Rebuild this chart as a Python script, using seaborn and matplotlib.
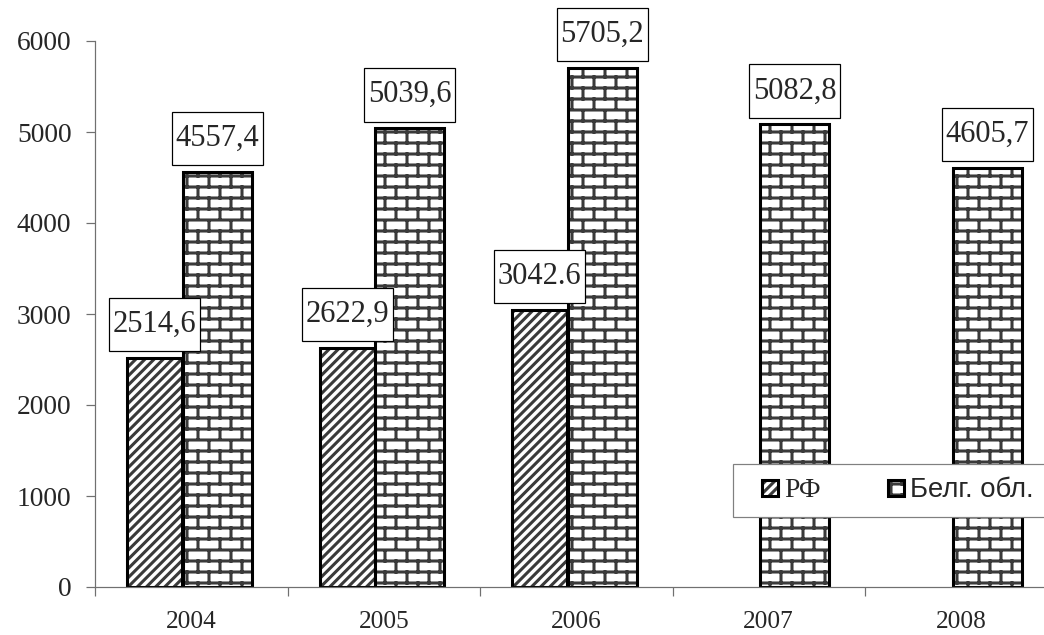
import numpy as np
import pandas as pd
import matplotlib
matplotlib.use("Agg")
import matplotlib.pyplot as plt
import matplotlib.hatch as mhatch
import matplotlib.patches as mpatches
from matplotlib.path import Path
from matplotlib.legend_handler import HandlerPatch
from matplotlib.colors import to_rgba
import seaborn as sns

# ---------------- data ----------------
years = ["2004", "2005", "2006", "2007", "2008"]
rf_values = [2514.6, 2622.9, 3042.6, np.nan, np.nan]
belg_values = [4557.4, 5039.6, 5705.2, 5082.8, 4605.7]
rf_labels = ["2514,6", "2622,9", "3042.6"]
belg_labels = ["4557,4", "5039,6", "5705,2", "5082,8", "4605,7"]
series_names = ["РФ", "Белг. обл."]
y_ticks = [0, 1000, 2000, 3000, 4000, 5000, 6000]


# ---------------- brick hatch ----------------
class BrickHatch(mhatch.HatchPatternBase):
    def __init__(self, hatch, density):
        rows, cols = 10, 5
        segs = []
        if "+" in hatch:
            for k in range(rows + 1):
                segs.append(((0.0, k / rows), (1.0, k / rows)))
            for k in range(rows):
                y0, y1 = k / rows, (k + 1) / rows
                shift = 0.5 * (k % 2)
                for j in range(cols + 1):
                    x = (j + shift) / cols
                    if x <= 1.0:
                        segs.append(((x, y0), (x, y1)))
        self.segs = segs
        self.num_vertices = 2 * len(segs)

    def set_vertices_and_codes(self, vertices, codes):
        vertices[:] = np.array(self.segs, dtype=float).reshape(-1, 2)
        codes[0::2] = Path.MOVETO
        codes[1::2] = Path.LINETO


mhatch._hatch_types = [mhatch.NorthEastHatch, BrickHatch]


def label_box(x0, y0, width, height, mutation_size):
    px = 0.12 * mutation_size
    py = 0.40 * mutation_size
    x0, y0 = x0 - px, y0 - py
    x1, y1 = x0 + width + 2 * px, y0 + height + 2 * py
    return Path([(x0, y0), (x1, y0), (x1, y1), (x0, y1), (x0, y0)], closed=True)


sns.set_style("white")
plt.rcParams["font.family"] = ["Liberation Serif", "DejaVu Serif"]
plt.rcParams["hatch.linewidth"] = 2.0

DPI = 110
fig = plt.figure(figsize=(1044 / DPI, 635 / DPI), dpi=DPI)
ax = fig.add_axes([95 / 1044, 48 / 635, 962.5 / 1044, 546 / 635])

df_rf = pd.DataFrame({"year": years, "value": rf_values}).dropna()
df_b = pd.DataFrame({"year": years, "value": belg_values})

sns.barplot(data=df_rf, x="year", y="value", order=years, color="white",
            saturation=1, edgecolor="black", linewidth=2, hatch="////",
            errorbar=None, ax=ax)
rf_cont = ax.containers[-1]
sns.barplot(data=df_b, x="year", y="value", order=years, color="white",
            saturation=1, edgecolor="black", linewidth=2, hatch="+",
            errorbar=None, ax=ax)
b_cont = ax.containers[-1]

hatch_col = to_rgba("#3a3a3a")
for cont, off, w in [(rf_cont, -0.19, 0.286), (b_cont, 0.135, 0.36)]:
    for p in cont.patches:
        c = p.get_x() + p.get_width() / 2
        p.set_width(w)
        p.set_x(c + off - w / 2)
        p._hatch_color = hatch_col

box = dict(boxstyle=label_box, fc="white", ec="black", lw=0.8)
ax.bar_label(rf_cont, labels=rf_labels, padding=12.5, fontsize=20,
             fontfamily="Liberation Serif", bbox=box)
ax.bar_label(b_cont, labels=belg_labels, padding=12.5, fontsize=20,
             fontfamily="Liberation Serif", bbox=box)

# axes styling
ax.set_xlim(-0.5, 4.5)
ax.set_ylim(0, 6000)
ax.set_yticks(y_ticks)
ax.set_yticklabels([str(t) for t in y_ticks])
ax.set_xticks(range(len(years)))
ax.set_xticklabels(years)
ax.set_xticks(np.arange(-0.5, len(years) + 0.5, 1.0), minor=True)
ax.set_xlabel("")
ax.set_ylabel("")
for s in ["top", "right"]:
    ax.spines[s].set_visible(False)
for s in ["left", "bottom"]:
    ax.spines[s].set_color("#707070")
    ax.spines[s].set_linewidth(0.8)
ax.tick_params(axis="y", which="major", direction="out", length=5.9,
               width=0.8, color="#707070", pad=9.5, labelsize=18, left=True)
ax.tick_params(axis="x", which="major", length=0, pad=16, labelsize=16.5)
ax.tick_params(axis="x", which="minor", direction="out", length=5.9,
               width=0.8, color="#707070", bottom=True)
ax.grid(False)


def square_handle(legend, orig_handle, xdescent, ydescent, width, height, fontsize):
    s = 10.5
    return mpatches.Rectangle((-xdescent + width - s, -ydescent + (height - s) / 2), s, s)


leg = fig.legend(handles=[rf_cont.patches[0], b_cont.patches[0]],
                 labels=series_names, loc="lower left",
                 bbox_to_anchor=(733 / 1044, 118 / 635, 314 / 1044, 55 / 635),
                 bbox_transform=fig.transFigure, ncol=2, mode="expand",
                 frameon=True, fancybox=False, framealpha=1, borderpad=0.5,
                 handlelength=1.15, handleheight=0.7, handletextpad=0.22,
                 borderaxespad=0,
                 prop={"family": "Liberation Sans", "size": 18},
                 handler_map={mpatches.Rectangle: HandlerPatch(patch_func=square_handle)})
leg.get_frame().set_edgecolor("#808080")
leg.get_frame().set_linewidth(0.8)
leg.get_texts()[0].set_fontfamily("Liberation Serif")
leg.get_texts()[0].set_fontsize(18)

fig.savefig("out.png", dpi=DPI)
